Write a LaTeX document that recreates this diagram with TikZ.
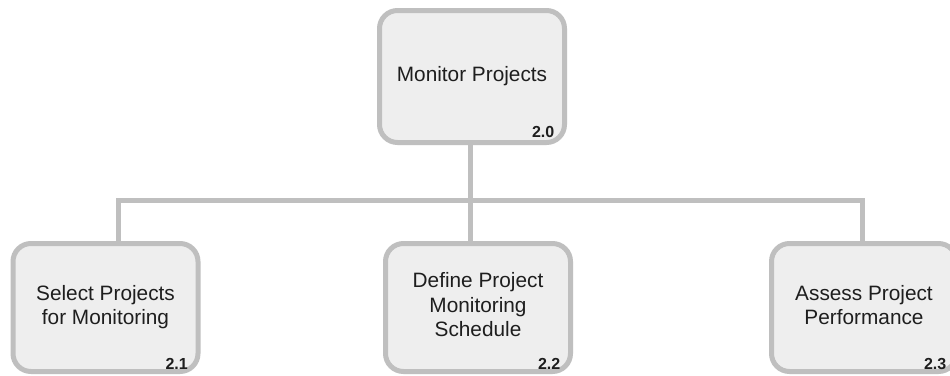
\documentclass[tikz,border=0pt]{standalone}
\usepackage{fontspec}
\setmainfont{Liberation Sans}
\usetikzlibrary{backgrounds}
\definecolor{edgegray}{HTML}{BFBFBF}
\definecolor{boxfill}{HTML}{EEEEEE}
\definecolor{inkgray}{HTML}{1E1E1E}
% centred block of lines, nudged slightly left inside its box
\newcommand{\boxlines}[1]{\begin{tabular}{@{}c@{}}#1\end{tabular}\hspace{9pt}}

\begin{document}
\begin{tikzpicture}[x=1pt,y=-1pt,
  task/.style={draw=edgegray, fill=boxfill, line width=5pt, rounded corners=18pt,
    minimum width=185pt, inner sep=0pt, font=\fontsize{20.8}{24.5}\selectfont, text=inkgray},
  toptask/.style={task, minimum height=132pt},
  subtask/.style={task, minimum height=128pt},
  tasknum/.style={font=\bfseries\fontsize{16}{19}\selectfont, anchor=base east, inner sep=0pt, text=inkgray},
  link/.style={draw=edgegray, line width=5pt, line join=miter}]
\useasboundingbox (0,0) rectangle (950,375);
\clip (0,0) rectangle (950,375);

% task boxes
\node[toptask] (p20) at (472,76.5) {\boxlines{Monitor Projects}};
\node[subtask] (p21) at (105.5,307.5) {\boxlines{Select Projects\\for Monitoring}};
\node[subtask] (p22) at (478,307.5) {\boxlines{Define Project\\Monitoring\\Schedule}};
\node[subtask] (p23) at (864,307.5) {\boxlines{Assess Project\\Performance}};

% task numbers
\node[tasknum] (n20) at ([xshift=-12.5pt,yshift=7.5pt]p20.south east) {2.0};
\node[tasknum] (n21) at ([xshift=-12.5pt,yshift=4.5pt]p21.south east) {2.1};
\node[tasknum] (n22) at ([xshift=-12.5pt,yshift=4.5pt]p22.south east) {2.2};
\node[tasknum] (n23) at ([xshift=-12.5pt,yshift=4.5pt]p23.south east) {2.3};

% bus junctions
\coordinate (j1) at (118,200);
\coordinate (j2) at (470,200);
\coordinate (j3) at (862,200);

\begin{scope}[on background layer]
  \fill[white] (0,0) rectangle (950,375);
  \draw[link] (j2 |- p20.south) -- (j2);
  \draw[link] (j1 |- p21.north) -- (j1) -- (j3) -- (j3 |- p23.north);
  \draw[link] (j2) -- (j2 |- p22.north);
\end{scope}
\end{tikzpicture}
\end{document}
